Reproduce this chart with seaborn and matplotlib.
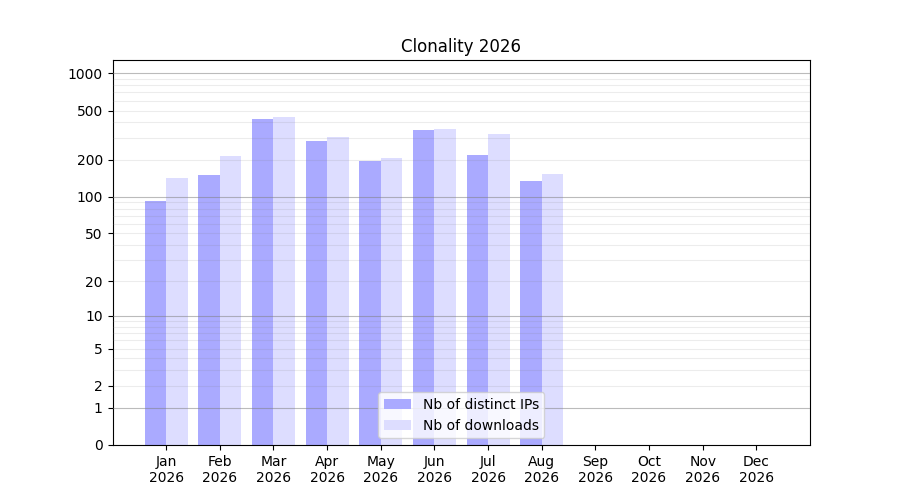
import numpy as np
import pandas as pd
import matplotlib
matplotlib.use("Agg")
import matplotlib.pyplot as plt
import seaborn as sns
from matplotlib.ticker import FixedLocator, FixedFormatter, NullFormatter

# ----- data -----
months = ["Jan", "Feb", "Mar", "Apr", "May", "Jun", "Jul", "Aug",
          "Sep", "Oct", "Nov", "Dec"]
year = "2026"
months_with_data = months[:8]
distinct_ips = [93, 150, 427, 283, 195, 348, 218, 134]
downloads = [142, 214, 443, 305, 205, 354, 323, 153]
series_names = ["Nb of distinct IPs", "Nb of downloads"]
series_colors = ["#aaaaff", "#ddddff"]

y_ticks = [0, 1, 2, 5, 10, 20, 50, 100, 200, 500, 1000]
decades = [1, 10, 100, 1000]

# long table for seaborn
df = pd.DataFrame({
    "month": months_with_data * 2,
    "value": distinct_ips + downloads,
    "series": [series_names[0]] * 8 + [series_names[1]] * 8,
})

fig, ax = plt.subplots(figsize=(9, 5), dpi=100)

# log(x+1) scale so that 0 can be shown
ax.set_yscale("function", functions=(lambda v: np.log10(np.clip(v, 0, None) + 1),
                                     lambda v: 10 ** v - 1))

sns.barplot(data=df, x="month", y="value", hue="series", order=months,
            hue_order=series_names, palette=series_colors, saturation=1,
            ax=ax, zorder=1)

ax.set_ylim(0, 1280)
ax.set_xlim(-1, 12)

# y ticks
minor_vals = [m * d for d in [1, 10, 100] for m in range(2, 10)]
minor_vals = [v for v in minor_vals if v not in y_ticks]
ax.yaxis.set_major_locator(FixedLocator(y_ticks))
ax.yaxis.set_major_formatter(FixedFormatter([str(t) for t in y_ticks]))
ax.yaxis.set_minor_locator(FixedLocator(minor_vals))
ax.yaxis.set_minor_formatter(NullFormatter())
ax.tick_params(axis="y", which="minor", length=0)

# grid: light everywhere, darker on decades
ax.set_axisbelow(False)
ax.grid(False)
ax.yaxis.grid(True, which="both", color="gray", alpha=0.15, lw=0.8, zorder=3)
for d in decades:
    ax.axhline(d, color="gray", alpha=0.45, lw=0.8, zorder=3)

ax.set_xticks(range(len(months)))
ax.set_xticklabels([f"{m}\n{year}" for m in months])
ax.set_xlabel("")
ax.set_ylabel("")
ax.set_title("Clonality 2026")

ax.legend(loc="lower center")

fig.savefig("out.png", dpi=100)
